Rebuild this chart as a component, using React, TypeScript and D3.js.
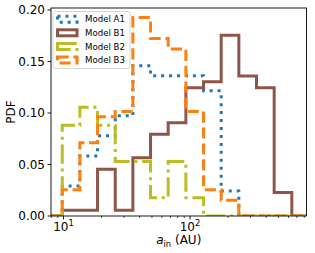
import * as d3 from 'd3';

// shared log bin edges (AU)
const binEdges = [9.77, 13.46, 18.57, 25.63, 35.33, 48.73, 67.2, 92.7, 127.9, 176.3, 243.1, 335.3, 462.4, 637.7];

const modelA1 = [0.0292, 0.0583, 0.0778, 0.0972, 0.1458, 0.1361, 0.1361, 0.1361, 0.1215, 0.0243, 0, 0, 0];
const modelB1 = [0.0057, 0.0057, 0.0453, 0.0057, 0.0566, 0.0793, 0.0906, 0.1246, 0.1302, 0.1755, 0.1359, 0.1246, 0.0227];
const modelB2 = [0.088, 0.1056, 0.088, 0.0528, 0.0528, 0.0176, 0.0528, 0.0176, 0, 0, 0, 0, 0];
const modelB3 = [0.0254, 0.071, 0.0963, 0.1014, 0.1927, 0.1724, 0.1622, 0.1014, 0.0254, 0.0152, 0, 0, 0];

const seriesNames = ['Model A1', 'Model B1', 'Model B2', 'Model B3'];
const yTicks = [0, 0.05, 0.1, 0.15, 0.2];
const xMajor = [10, 100];
const xMinor = [8, 9, 20, 30, 40, 50, 60, 70, 80, 90, 200, 300, 400, 500, 600, 700, 800];

const W = 315;
const H = 253;
const m = { left: 51, right: 306.5, top: 8, bottom: 216 };
const LW = 3;

const styles = [
  { color: '#1f77b4', dash: `${LW},${LW * 1.65}` },
  { color: '#8c564b', dash: 'none' },
  { color: '#bcbd22', dash: `${LW * 6.4},${LW * 1.6},${LW},${LW * 1.6}` },
  { color: '#ff7f0e', dash: `${LW * 3.7},${LW * 1.6}` },
];

export default function App() {
  const x = d3.scaleLog().domain([7.96, 833]).range([m.left, m.right]);
  const y = d3.scaleLinear().domain([0, 0.2019]).range([m.bottom, m.top]);
  const [xmin, xmax] = x.domain();

  const stepPath = (vals: number[]) => {
    const pts: [number, number][] = [[xmin, 0]];
    vals.forEach((v, i) => pts.push([binEdges[i], v]));
    pts.push([binEdges[vals.length], 0]);
    pts.push([xmax, 0]);
    return d3
      .line<[number, number]>()
      .x((d) => x(d[0]))
      .y((d) => y(d[1]))
      .curve(d3.curveStepAfter)(pts) as string;
  };

  const all = [modelA1, modelB1, modelB2, modelB3];
  const font = 'DejaVu Sans, sans-serif';

  return (
    <div style={{ position: 'fixed', left: 0, top: 0 }}>
      <svg width={W} height={H} style={{ display: 'block', background: '#fff' }} fontFamily={font}>
        <defs>
          <clipPath id="plot">
            <rect x={m.left} y={m.top} width={m.right - m.left} height={m.bottom - m.top} />
          </clipPath>
        </defs>

        <g clipPath="url(#plot)">
          {all.map((vals, i) => (
            <path
              key={i}
              d={stepPath(vals)}
              fill="none"
              stroke={styles[i].color}
              strokeWidth={LW}
              strokeDasharray={styles[i].dash}
              strokeLinejoin="miter"
            />
          ))}
        </g>

        <rect
          x={m.left}
          y={m.top}
          width={m.right - m.left}
          height={m.bottom - m.top}
          fill="none"
          stroke="#000"
          strokeWidth={0.9}
        />

        {yTicks.map((t) => (
          <g key={t}>
            <line x1={m.left - 3.5} x2={m.left} y1={y(t)} y2={y(t)} stroke="#000" strokeWidth={0.9} />
            <text x={m.left - 6} y={y(t) + 4.3} textAnchor="end" fontSize={12}>
              {t.toFixed(2)}
            </text>
          </g>
        ))}

        {xMinor.map((t) => (
          <line key={t} x1={x(t)} x2={x(t)} y1={m.bottom} y2={m.bottom + 2} stroke="#000" strokeWidth={0.7} />
        ))}
        {xMajor.map((t) => (
          <g key={t}>
            <line x1={x(t)} x2={x(t)} y1={m.bottom} y2={m.bottom + 3.5} stroke="#000" strokeWidth={0.9} />
            <text x={x(t)} y={230.5} textAnchor="middle" fontSize={12}>
              10
              <tspan fontSize={8.4} dy={-5}>
                {Math.round(Math.log10(t))}
              </tspan>
            </text>
          </g>
        ))}

        <text x={(m.left + m.right) / 2} y={244} textAnchor="middle" fontSize={12}>
          <tspan fontStyle="italic">a</tspan>
          <tspan fontSize={8.4} dy={2.5}>in</tspan>
          <tspan dy={-2.5}> (AU)</tspan>
        </text>

        <text transform={`translate(15,${(m.top + m.bottom) / 2}) rotate(-90)`} textAnchor="middle" fontSize={12}>
          PDF
        </text>

        <g>
          <rect x={53} y={11.5} width={77} height={57} rx={2} fill="#fff" fillOpacity={0.8} stroke="#ccc" strokeWidth={0.8} />
          {seriesNames.map((name, i) => {
            const cy = 19.2 + i * 13.6;
            return (
              <g key={name}>
                <rect
                  x={57.5}
                  y={cy - 3}
                  width={19.5}
                  height={6}
                  fill="none"
                  stroke={styles[i].color}
                  strokeWidth={LW}
                  strokeDasharray={styles[i].dash}
                />
                <text x={85} y={cy + 3.1} fontSize={8.6}>
                  {name}
                </text>
              </g>
            );
          })}
        </g>
      </svg>
    </div>
  );
}
